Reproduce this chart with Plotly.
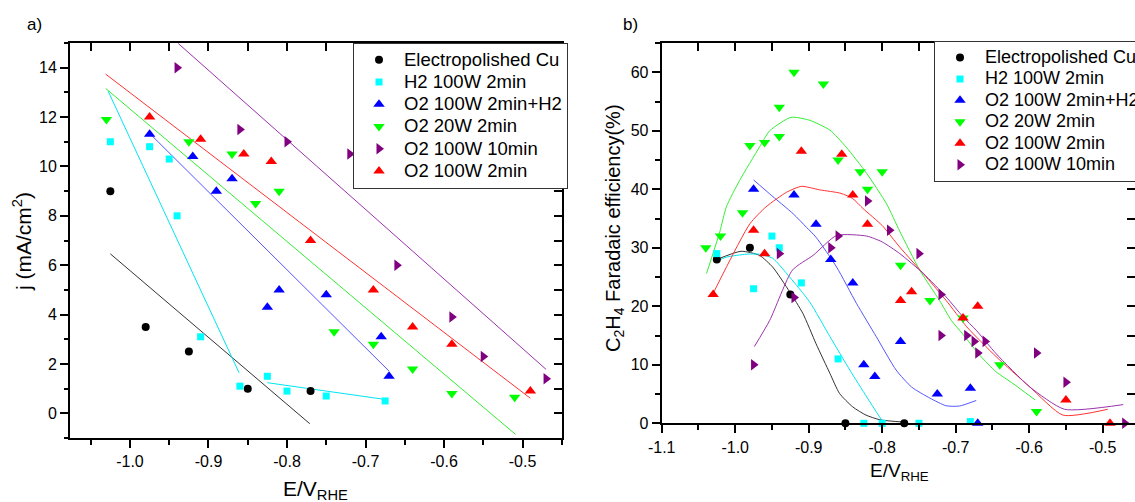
import plotly.graph_objects as go

W, H = 1135, 502

# ---------------- Panel a) : j (mA/cm2) vs E/V_RHE ----------------
a_cu_E = [-1.025, -0.98, -0.925, -0.85, -0.77]
a_cu_j = [9.0, 3.5, 2.5, 1.0, 0.9]
a_h2_E = [-1.025, -0.975, -0.95, -0.94, -0.91, -0.86, -0.825, -0.80, -0.75, -0.675]
a_h2_j = [11.0, 10.8, 10.3, 8.0, 3.1, 1.1, 1.5, 0.9, 0.7, 0.5]
a_o2h2_E = [-0.975, -0.92, -0.89, -0.87, -0.825, -0.81, -0.75, -0.68, -0.67]
a_o2h2_j = [11.3, 10.4, 9.0, 9.5, 4.3, 5.0, 4.8, 3.1, 1.5]
a_o220_E = [-1.03, -0.925, -0.87, -0.84, -0.81, -0.74, -0.69, -0.64, -0.59, -0.51]
a_o220_j = [11.9, 11.0, 10.5, 8.5, 9.0, 3.3, 2.8, 1.8, 0.8, 0.65]
a_o210_E = [-0.94, -0.86, -0.80, -0.72, -0.66, -0.59, -0.55, -0.47]
a_o210_j = [14.0, 11.5, 11.0, 10.5, 6.0, 3.9, 2.3, 1.4]
a_o2_E = [-0.975, -0.91, -0.855, -0.82, -0.77, -0.69, -0.64, -0.59, -0.49]
a_o2_j = [12.0, 11.1, 10.5, 10.2, 7.0, 5.0, 3.5, 2.8, 0.9]

# linear fit lines (panel a)
a_cu_fit_E = [-1.025, -0.771]
a_cu_fit_j = [6.46, -0.42]
a_h2_fit_E = [-1.028, -0.861, None, -0.825, -0.677]
a_h2_fit_j = [13.06, 1.64, None, 1.24, 0.57]
a_o2h2_fit_E = [-0.976, -0.670]
a_o2h2_fit_j = [11.37, 1.71]
a_o220_fit_E = [-1.031, -0.509]
a_o220_fit_j = [13.16, -0.85]
a_o210_fit_E = [-0.9385, -0.470]
a_o210_fit_j = [14.98, 1.78]
a_o2_fit_E = [-1.031, -0.49]
a_o2_fit_j = [13.74, 0.61]

# ---------------- Panel b) : C2H4 Faradaic efficiency (%) ----------------
b_cu_E = [-1.025, -0.98, -0.925, -0.85, -0.77]
b_cu_fe = [28, 30, 22, 0, 0]
b_h2_E = [-1.025, -0.975, -0.95, -0.94, -0.91, -0.86, -0.825, -0.80, -0.75, -0.68]
b_h2_fe = [29, 23, 32, 30, 24, 11, 0, 0, 0, 0.3]
b_o2h2_E = [-0.975, -0.92, -0.89, -0.87, -0.84, -0.825, -0.81, -0.775, -0.725, -0.68, -0.67]
b_o2h2_fe = [40, 39, 34, 28, 24, 10, 8, 14, 5, 6, 0]
b_o220_E = [-1.04, -1.02, -0.99, -0.98, -0.96, -0.94, -0.94, -0.92, -0.88, -0.86,
            -0.83, -0.82, -0.80, -0.775, -0.735, -0.69, -0.64, -0.59]
b_o220_fe = [30, 32, 36, 47.5, 48, 49, 54, 60, 58, 45, 43, 40, 43, 27, 21, 18, 10, 2]
b_o2_E = [-1.03, -0.975, -0.96, -0.91, -0.855, -0.84, -0.82, -0.775, -0.76, -0.69, -0.67, -0.55, -0.49]
b_o2_fe = [22, 33, 29, 46.5, 46, 39, 34, 21, 22.5, 18, 20, 4, 0]
b_o210_E = [-0.975, -0.94, -0.92, -0.87, -0.86, -0.82, -0.79, -0.75, -0.72, -0.72,
            -0.685, -0.675, -0.66, -0.67, -0.59, -0.55, -0.47]
b_o210_fe = [10, 29, 21.5, 30, 32, 38, 33, 29, 22, 15, 15, 14, 14, 12, 12, 7, 0]

# fitted curves (panel b)
b_cu_fit_E = [-1.025, -0.992, -0.967, -0.949, -0.926, -0.908, -0.890, -0.871, -0.858, -0.840, -0.822, -0.803, -0.77]
b_cu_fit_fe = [28.0, 29.4, 28.7, 26.7, 22.5, 18.8, 13.6, 8.5, 5.1, 2.8, 1.4, 0.6, 0.2]
b_h2_fit_E = [-1.025, -1.012, -0.985, -0.967, -0.949, -0.926, -0.899, -0.871, -0.844, -0.821, -0.80]
b_h2_fit_fe = [27.7, 28.4, 28.9, 28.9, 28.2, 25.0, 20.8, 14.8, 9.1, 4.5, 0.4]
b_o2h2_fit_E = [-0.975, -0.953, -0.921, -0.903, -0.890, -0.862, -0.835, -0.808, -0.781, -0.760, -0.735, -0.713, -0.695, -0.672]
b_o2h2_fit_fe = [41.6, 39.2, 35.8, 33.5, 31.8, 26.7, 20.5, 14.8, 9.1, 6.2, 4.3, 3.0, 2.95, 3.9]
b_o220_fit_E = [-1.039, -1.021, -1.012, -0.994, -0.967, -0.953, -0.924, -0.899, -0.871, -0.849,
                -0.821, -0.794, -0.776, -0.749, -0.722, -0.706, -0.690, -0.667, -0.645, -0.622, -0.592]
b_o220_fit_fe = [25.6, 32.7, 37.0, 41.5, 47.2, 50.0, 52.3, 51.8, 50.1, 47.2,
                 42.7, 37.5, 32.8, 26.2, 21.0, 17.6, 15.2, 11.6, 8.8, 6.8, 4.0]
b_o2_fit_E = [-1.03, -0.98, -0.958, -0.930, -0.910, -0.885, -0.856, -0.840, -0.826, -0.80,
              -0.776, -0.740, -0.713, -0.685, -0.645, -0.599, -0.554, -0.493]
b_o2_fit_fe = [22.2, 34.1, 37.0, 39.5, 40.5, 39.9, 39.3, 38.4, 36.7, 33.8,
               30.1, 25.0, 21.0, 16.5, 11.4, 6.2, 1.4, 2.4]
b_o210_fit_E = [-0.974, -0.953, -0.922, -0.894, -0.862, -0.821, -0.80, -0.776, -0.744, -0.713,
                -0.690, -0.672, -0.645, -0.599, -0.552, -0.472]
b_o210_fit_fe = [13.1, 17.6, 26.2, 28.7, 32.1, 32.0, 31.0, 29.0, 25.6, 21.6,
                 18.2, 15.9, 11.9, 6.2, 2.4, 3.2]

# tick labels
a_xtick_vals = [-1.0, -0.9, -0.8, -0.7, -0.6, -0.5]
a_xtick_text = ["-1.0", "-0.9", "-0.8", "-0.7", "-0.6", "-0.5"]
a_ytick_vals = [0, 2, 4, 6, 8, 10, 12, 14]
b_xtick_vals = [-1.1, -1.0, -0.9, -0.8, -0.7, -0.6, -0.5]
b_xtick_text = ["-1.1", "-1.0", "-0.9", "-0.8", "-0.7", "-0.6", "-0.5"]
b_ytick_vals = [0, 10, 20, 30, 40, 50, 60]

names = ["Electropolished Cu", "H2 100W 2min", "O2 100W 2min+H2",
         "O2 20W 2min", "O2 100W 10min", "O2 100W 2min"]

C_BLACK, C_CYAN, C_BLUE, C_GREEN, C_PURPLE, C_RED = (
    "#000000", "#00FFFF", "#0000FF", "#00FF00", "#800080", "#FF0000")
L_BLACK, L_CYAN, L_BLUE, L_GREEN, L_PURPLE, L_RED = (
    "#333333", "#00E5F0", "#5555FF", "#33EE33", "#9933AA", "#FF3333")

FONT = "Liberation Sans, Arial, sans-serif"

fig = go.Figure()


def mk(sym, color, size):
    return dict(symbol=sym, color=color, size=size, line=dict(width=0))


def lab(text, size):
    return '<span style="font-size:%gpx">%s</span>' % (size, text)


# ---- panel a markers (legend order as in reference)
a_series = [
    (a_cu_E, a_cu_j, "circle", C_BLACK, 8, names[0]),
    (a_h2_E, a_h2_j, "square", C_CYAN, 7, names[1]),
    (a_o2h2_E, a_o2h2_j, "triangle-up", C_BLUE, 10, names[2]),
    (a_o220_E, a_o220_j, "triangle-down", C_GREEN, 10, names[3]),
    (a_o210_E, a_o210_j, "triangle-right", C_PURPLE, 10, names[4]),
    (a_o2_E, a_o2_j, "triangle-up", C_RED, 10, names[5]),
]
a_fits = [
    (a_cu_fit_E, a_cu_fit_j, L_BLACK),
    (a_h2_fit_E, a_h2_fit_j, L_CYAN),
    (a_o2h2_fit_E, a_o2h2_fit_j, L_BLUE),
    (a_o220_fit_E, a_o220_fit_j, L_GREEN),
    (a_o210_fit_E, a_o210_fit_j, L_PURPLE),
    (a_o2_fit_E, a_o2_fit_j, L_RED),
]
for x, y, c in a_fits:
    fig.add_trace(go.Scatter(x=x, y=y, mode="lines", line=dict(color=c, width=1),
                             showlegend=False, hoverinfo="skip", xaxis="x", yaxis="y"))
for x, y, s, c, sz, n in a_series:
    fig.add_trace(go.Scatter(x=x, y=y, mode="markers", marker=mk(s, c, sz), name=lab(n, 18.5),
                             legend="legend", xaxis="x", yaxis="y", cliponaxis=False))

# ---- panel b
b_fits = [
    (b_cu_fit_E, b_cu_fit_fe, L_BLACK),
    (b_h2_fit_E, b_h2_fit_fe, L_CYAN),
    (b_o2h2_fit_E, b_o2h2_fit_fe, L_BLUE),
    (b_o220_fit_E, b_o220_fit_fe, L_GREEN),
    (b_o2_fit_E, b_o2_fit_fe, L_RED),
    (b_o210_fit_E, b_o210_fit_fe, L_PURPLE),
]
for x, y, c in b_fits:
    fig.add_trace(go.Scatter(x=x, y=y, mode="lines",
                             line=dict(color=c, width=1, shape="spline", smoothing=0.6),
                             showlegend=False, hoverinfo="skip", xaxis="x2", yaxis="y2"))
b_series = [
    (b_cu_E, b_cu_fe, "circle", C_BLACK, 8, names[0]),
    (b_h2_E, b_h2_fe, "square", C_CYAN, 7, names[1]),
    (b_o2h2_E, b_o2h2_fe, "triangle-up", C_BLUE, 10, names[2]),
    (b_o220_E, b_o220_fe, "triangle-down", C_GREEN, 10, names[3]),
    (b_o2_E, b_o2_fe, "triangle-up", C_RED, 10, names[5]),
    (b_o210_E, b_o210_fe, "triangle-right", C_PURPLE, 10, names[4]),
]
for x, y, s, c, sz, n in b_series:
    fig.add_trace(go.Scatter(x=x, y=y, mode="markers", marker=mk(s, c, sz), name=lab(n, 18),
                             legend="legend2", xaxis="x2", yaxis="y2", cliponaxis=False))

# dummy traces so the mirrored (inward-tick) axes are drawn
fig.add_trace(go.Scatter(x=[None], y=[None], xaxis="x3", yaxis="y3", showlegend=False, hoverinfo="skip"))
fig.add_trace(go.Scatter(x=[None], y=[None], xaxis="x4", yaxis="y4", showlegend=False, hoverinfo="skip"))


# ---- geometry (pixels -> paper)
def px(v):
    return v / W


def py(v):
    return 1 - v / H


a_dom_x = [px(70), px(562)]
a_dom_y = [py(438), py(43)]
b_dom_x = [px(661.7), 1.0]
b_dom_y = [py(423.3), py(43)]
a_xr = [-1.0764, -0.4497]
a_yr = [-1, 15]
b_xr = [-1.1, -0.4560]
b_yr = [0, 65]

base = dict(showgrid=False, zeroline=False, showline=True, linecolor="black", linewidth=2,
            tickcolor="black", tickwidth=1.5, tickfont=dict(family=FONT, size=16, color="black"))
minor_common = dict(ticks="outside", ticklen=4.5, tickwidth=1.5, tickcolor="black", showgrid=False)

fig.update_layout(
    width=W, height=H, margin=dict(l=0, r=0, t=0, b=0, autoexpand=False),
    paper_bgcolor="white", plot_bgcolor="white",
    font=dict(family=FONT, color="black"),
    xaxis=dict(base, domain=a_dom_x, range=a_xr, anchor="y", tickmode="array",
               tickvals=a_xtick_vals, ticktext=a_xtick_text, ticks="outside", ticklen=8,
               minor=dict(minor_common, tickmode="linear", tick0=-1.05, dtick=0.1)),
    yaxis=dict(base, domain=a_dom_y, range=a_yr, anchor="x", tickmode="array",
               tickvals=a_ytick_vals, ticks="outside", ticklen=8,
               minor=dict(minor_common, tickmode="linear", tick0=1, dtick=2)),
    xaxis3=dict(base, domain=a_dom_x, range=a_xr, overlaying="x", anchor="y3", side="top",
                tickmode="linear", tick0=-1.05, dtick=0.05, ticks="inside", ticklen=8,
                showticklabels=False),
    yaxis3=dict(base, domain=a_dom_y, range=a_yr, overlaying="y", anchor="x3", side="right",
                tickmode="linear", tick0=0, dtick=1, ticks="inside", ticklen=8,
                showticklabels=False),
    xaxis2=dict(base, domain=b_dom_x, range=b_xr, anchor="y2", tickmode="array",
                tickvals=b_xtick_vals, ticktext=b_xtick_text, ticks="outside", ticklen=8,
                minor=dict(minor_common, tickmode="linear", tick0=-1.05, dtick=0.1)),
    yaxis2=dict(base, domain=b_dom_y, range=b_yr, anchor="x2", tickmode="array",
                tickvals=b_ytick_vals, ticks="outside", ticklen=8,
                minor=dict(minor_common, tickmode="linear", tick0=5, dtick=10)),
    xaxis4=dict(base, domain=b_dom_x, range=b_xr, overlaying="x2", anchor="y4", side="top",
                tickmode="linear", tick0=-1.05, dtick=0.05, ticks="inside", ticklen=8,
                showticklabels=False),
    yaxis4=dict(base, domain=b_dom_y, range=b_yr, overlaying="y2", anchor="x4", side="right",
                tickmode="linear", tick0=0, dtick=5, ticks="inside", ticklen=8,
                showticklabels=False),
    legend=dict(x=px(353), y=py(42.7), xanchor="left", yanchor="top", bgcolor="white",
                bordercolor="#333333", borderwidth=1, itemwidth=40,
                font=dict(family=FONT, size=14.8, color="black"), traceorder="normal"),
    legend2=dict(x=px(934), y=py(40.7), xanchor="left", yanchor="top", bgcolor="white",
                 bordercolor="#333333", borderwidth=1, itemwidth=40,
                 font=dict(family=FONT, size=14.2, color="black"), traceorder="normal"),
    showlegend=True,
)

ann = [
    dict(text="a)", x=px(34), y=py(25), font=dict(size=17)),
    dict(text="b)", x=px(630), y=py(25), font=dict(size=17)),
    dict(text="j (mA/cm<sup>2</sup>)", x=px(22), y=py(242), textangle=-90, font=dict(size=21)),
    dict(text="E/V<sub>RHE</sub>", x=px(315), y=py(490), font=dict(size=21)),
    dict(text="C<sub>2</sub>H<sub>4</sub> Faradaic efficiency(%)", x=px(614), y=py(228),
         textangle=-90, font=dict(size=20)),
    dict(text="E/V<sub>RHE</sub>", x=px(900), y=py(472), font=dict(size=19)),
]
for a in ann:
    a.update(xref="paper", yref="paper", showarrow=False, xanchor="center", yanchor="middle")
    a["font"] = dict(a["font"], family=FONT, color="black")
    fig.add_annotation(**a)

fig.write_html("out.html")
